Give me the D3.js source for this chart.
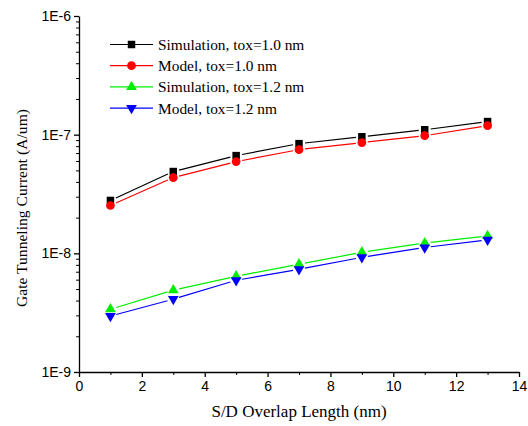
<!DOCTYPE html>
<html>
<head>
<meta charset="utf-8">
<script src="https://cdn.jsdelivr.net/npm/d3@7"></script>
<style>
    body { margin: 0; background: #fff; }
    svg { display: block; }
    .tick-label { font-family: "Liberation Sans", Arial, sans-serif; font-size: 14px; }
    .title { font-family: "Liberation Serif", "Times New Roman", serif; font-size: 17px; }
    .title-y { font-family: "Liberation Serif", "Times New Roman", serif; font-size: 15.6px; }
    .legend-text { font-family: "Liberation Serif", "Times New Roman", serif; font-size: 15.4px; }
</style>
</head>
<body>
<svg id="chart" width="528" height="426"></svg>
<script>
const overlapLength = [1, 3, 5, 7, 9, 11, 13];
const simTox10 = [2.79e-8, 4.89e-8, 6.66e-8, 8.4e-8, 9.6e-8, 1.10e-7, 1.29e-7];
const modelTox10 = [2.53e-8, 4.35e-8, 5.93e-8, 7.48e-8, 8.57e-8, 9.8e-8, 1.19e-7];
const simTox12 = [3.38e-9, 4.89e-9, 6.41e-9, 8.09e-9, 1.02e-8, 1.22e-8, 1.40e-8];
const modelTox12 = [2.96e-9, 4.11e-9, 5.93e-9, 7.34e-9, 9.25e-9, 1.12e-8, 1.30e-8];

const xTicks = [0, 2, 4, 6, 8, 10, 12, 14];
const yTicks = [1e-9, 1e-8, 1e-7, 1e-6];
const yTickLabels = ['1E-9', '1E-8', '1E-7', '1E-6'];

const seriesNames = ['Simulation, tox=1.0 nm', 'Model, tox=1.0 nm', 'Simulation, tox=1.2 nm', 'Model, tox=1.2 nm'];

const LEFT = 79;
const RIGHT = 519;
const TOP = 16;
const BOTTOM = 372;
const GAP = 6;

const series = [
    { name: seriesNames[0], values: simTox10, color: '#000000', symbol: d3.symbolSquare, size: 56, rotate: 0 },
    { name: seriesNames[1], values: modelTox10, color: '#ff0000', symbol: d3.symbolCircle, size: 60, rotate: 0 },
    { name: seriesNames[2], values: simTox12, color: '#00ee00', symbol: d3.symbolTriangle, size: 50, rotate: 0 },
    { name: seriesNames[3], values: modelTox12, color: '#0000ff', symbol: d3.symbolTriangle, size: 50, rotate: 180 }
];

const svg = d3.select('#chart');

const x = d3.scaleLinear().domain([0, 14]).range([LEFT, RIGHT]);
const y = d3.scaleLog().domain([1e-9, 1e-6]).range([BOTTOM, TOP]);

// minor ticks
const xMinor = d3.range(1, 14, 2);
const yMinor = [];
[1e-9, 1e-8, 1e-7].forEach((d) => {
    for (let k = 2; k <= 9; k++) yMinor.push(d * k);
});

const xAxis = d3.axisBottom(x).tickValues(xTicks).tickSize(5).tickPadding(4).tickSizeOuter(0);
const yAxis = d3.axisLeft(y).tickValues(yTicks).tickFormat((d, i) => yTickLabels[i]).tickSize(5).tickPadding(3).tickSizeOuter(0);

const gx = svg.append('g').attr('transform', `translate(0,${BOTTOM})`).call(xAxis);
const gy = svg.append('g').attr('transform', `translate(${LEFT},0)`).call(yAxis);

gx.selectAll('.minor')
    .data(xMinor)
    .enter()
    .append('line')
    .attr('x1', (d) => x(d) + 0.5)
    .attr('x2', (d) => x(d) + 0.5)
    .attr('y1', 0)
    .attr('y2', 3)
    .attr('stroke', '#000');

gy.selectAll('.minor')
    .data(yMinor)
    .enter()
    .append('line')
    .attr('y1', (d) => y(d) + 0.5)
    .attr('y2', (d) => y(d) + 0.5)
    .attr('x1', 0)
    .attr('x2', -3)
    .attr('stroke', '#000');

[gx, gy].forEach((g) => {
    g.selectAll('path.domain').attr('stroke', '#000').attr('stroke-width', 1.3);
    g.selectAll('.tick line').attr('stroke', '#000').attr('stroke-width', 1.3);
    g.selectAll('.tick text').attr('class', 'tick-label').attr('fill', '#000');
});

// lines with small gaps near markers
const segs = (values) => {
    const out = [];
    for (let i = 0; i < values.length - 1; i++) {
        const x0 = x(overlapLength[i]);
        const y0 = y(values[i]);
        const x1 = x(overlapLength[i + 1]);
        const y1 = y(values[i + 1]);
        const len = Math.hypot(x1 - x0, y1 - y0);
        const ux = (x1 - x0) / len;
        const uy = (y1 - y0) / len;
        out.push([x0 + ux * GAP, y0 + uy * GAP, x1 - ux * GAP, y1 - uy * GAP]);
    }
    return out;
};

series.forEach((s) => {
    svg.append('g')
        .selectAll('line')
        .data(segs(s.values))
        .enter()
        .append('line')
        .attr('x1', (d) => d[0])
        .attr('y1', (d) => d[1])
        .attr('x2', (d) => d[2])
        .attr('y2', (d) => d[3])
        .attr('stroke', s.color)
        .attr('stroke-width', 1.2);
});

series.forEach((s) => {
    svg.append('g')
        .selectAll('path')
        .data(s.values)
        .enter()
        .append('path')
        .attr('d', d3.symbol().type(s.symbol).size(s.size))
        .attr('transform', (d, i) => `translate(${x(overlapLength[i])},${y(d)}) rotate(${s.rotate})`)
        .attr('fill', s.color);
});

// legend
const legend = svg.append('g');
series.forEach((s, i) => {
    const ly = 44.5 + i * 21.2;
    legend.append('line')
        .attr('x1', 110).attr('x2', 153)
        .attr('y1', ly).attr('y2', ly)
        .attr('stroke', s.color)
        .attr('stroke-width', 1.2);
    legend.append('path')
        .attr('d', d3.symbol().type(s.symbol).size(s.size))
        .attr('transform', `translate(131.5,${ly}) rotate(${s.rotate})`)
        .attr('fill', s.color);
    legend.append('text')
        .attr('class', 'legend-text')
        .attr('x', 158)
        .attr('y', ly + 5.5)
        .text(s.name);
});

// axis titles
svg.append('text')
    .attr('class', 'title')
    .attr('x', (LEFT + RIGHT) / 2)
    .attr('y', 417)
    .attr('text-anchor', 'middle')
    .text('S/D Overlap Length (nm)');

svg.append('text')
    .attr('class', 'title-y')
    .attr('transform', 'translate(27,208) rotate(-90)')
    .attr('text-anchor', 'middle')
    .text('Gate Tunneling Current (A/um)');
</script>
</body>
</html>
